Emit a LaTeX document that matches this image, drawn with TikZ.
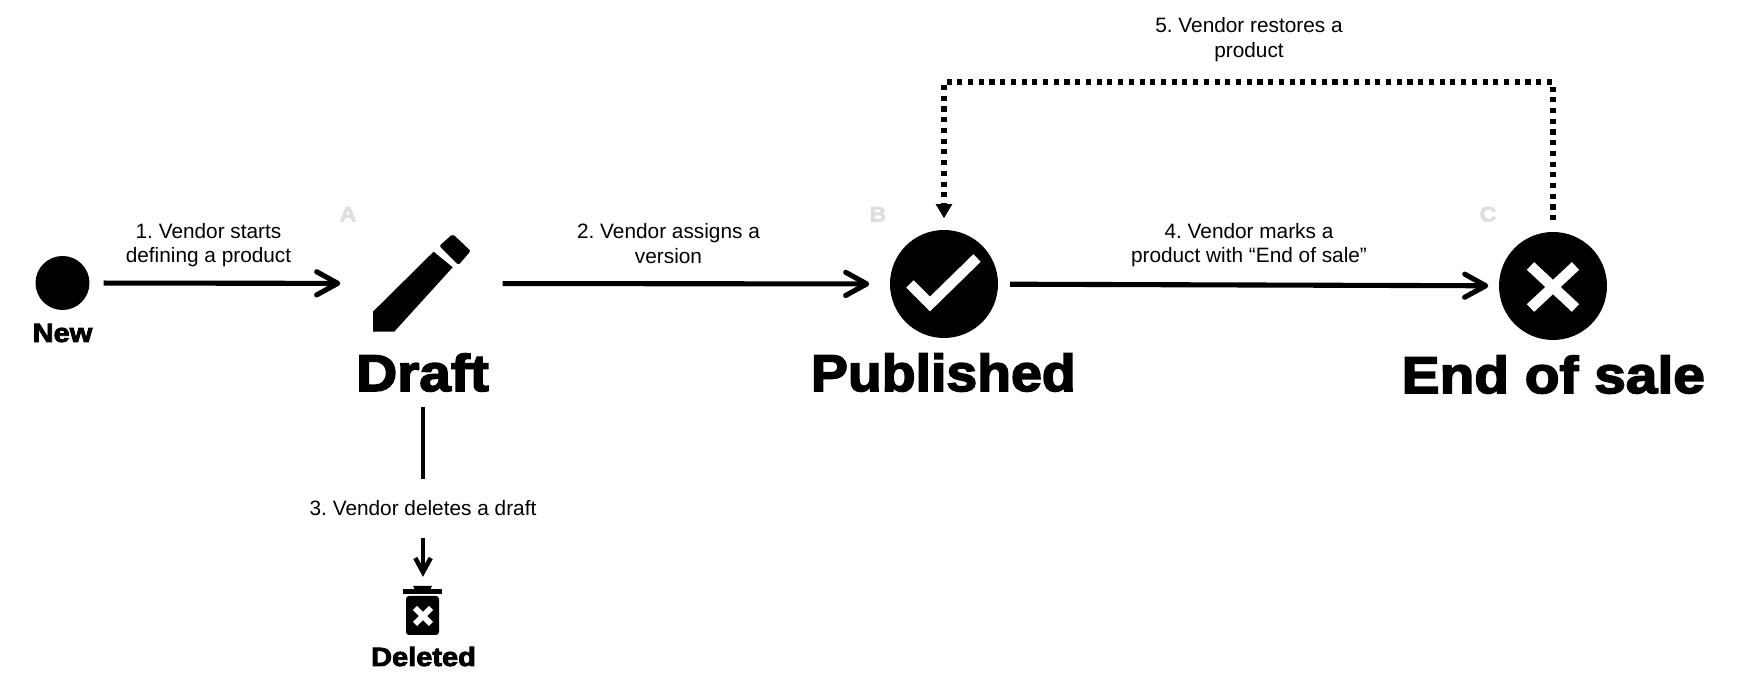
\documentclass[tikz,border=0pt]{standalone}
\usepackage{fontspec}
\setmainfont{Liberation Sans}
\newfontfamily\heavyfont[UprightFont=* Bold,FakeBold=3.2,FakeStretch=1.1]{Liberation Sans}
\usepackage{tikz}
\usetikzlibrary{arrows.meta}
\tikzset{
  stepdot/.style={shape=circle,fill=black,inner sep=0pt,minimum size=1.08cm},
  flow/.style={line width=1.45pt,-{Straight Barb[length=6pt,width=6.6pt,round]}},
  plainflow/.style={line width=1.35pt},
  restore/.style={line width=1.45pt,dash pattern=on 1.45pt off 1.6pt,-{Triangle[length=4pt,width=4.4pt]}},
  steplabel/.style={align=center,font=\fontsize{5.92}{7.03}\selectfont\frenchspacing,inner sep=0pt},
  stateword/.style={anchor=base,inner sep=0pt,font=\heavyfont\fontsize{14.7}{16}\selectfont},
  smallword/.style={anchor=base,inner sep=0pt,font=\heavyfont\fontsize{7.5}{8}\selectfont},
  corner/.style={anchor=base,inner sep=0pt,text=black!13,font=\heavyfont\fontsize{6}{7}\selectfont},
  glyph/.style={white,line width=3pt}
}

\begin{document}
\begin{tikzpicture}
        \useasboundingbox (0,0) rectangle (17.45,6.93);

        %nodes
        \node[stepdot,minimum size=0.54cm] (newdot) at (0.625,4.10) {};
        \node[shape=rectangle,inner sep=0pt,minimum width=1.64cm,minimum height=1cm] (draft) at (4.23,4.095) {};
        \node[stepdot] (published) at (9.44,4.09) {};
        \node[stepdot] (endsale) at (15.53,4.07) {};
        \node[inner sep=0pt,minimum size=0.01cm] (trash) at (4.23,1.15) {};
        \coordinate (looptop) at (9.44,6.11);
        \coordinate (stemend) at (4.23,2.14);
        \coordinate (stemtop) at (4.23,2.86);
        \coordinate (arrowstart) at (4.23,1.55);

        %pencil
        \fill[rounded corners=0.02cm] (4.527,4.59) -- (4.707,4.42) -- (4.585,4.28) -- (4.393,4.47) -- cycle;
        \fill (4.336,4.413) -- (4.527,4.257) -- (3.942,3.613) -- (3.73,3.613) -- (3.73,3.813) -- cycle;

        %check and cross
        \draw[glyph] (9.10,4.09) -- (9.30,3.89) -- (9.77,4.35);
        \draw[glyph] (15.305,4.27) -- (15.755,3.85);
        \draw[glyph] (15.305,3.85) -- (15.755,4.27);

        %bin
        \fill (4.13,1.07) -- (4.32,1.07) -- (4.30,1.03) -- (4.15,1.03) -- cycle;
        \fill (4.03,1.04) rectangle (4.42,0.99);
        \fill[rounded corners=0.03cm] (4.06,0.97) -- (4.39,0.97) -- (4.39,0.58) -- (4.06,0.58) -- cycle;
        \draw[white,line width=1.7pt] (4.15,0.85) -- (4.31,0.69);
        \draw[white,line width=1.7pt] (4.15,0.69) -- (4.31,0.85);

        %labels
        \node[stateword] (draftword) at (4.225,3.02) {Draft};
        \node[stateword,xscale=0.975,transform shape] (publishedword) at (9.433,3.02) {Published};
        \node[stateword] (endword) at (15.533,3.00) {End of sale};
        \node[smallword] (newword) at (0.625,3.51) {New};
        \node[smallword] (deletedword) at (4.235,0.27) {Deleted};
        \node[corner] (cornera) at (3.48,4.715) {A};
        \node[corner] (cornerb) at (8.78,4.715) {B};
        \node[corner] (cornerc) at (14.88,4.715) {C};
        \node[steplabel] (startlabel) at (2.085,4.48) {1. Vendor starts\\defining a product};
        \node[steplabel] (assignlabel) at (6.685,4.495) {2. Vendor assigns a\\version};
        \node[steplabel] (deletelabel) at (4.23,1.845) {3. Vendor deletes a draft};
        \node[steplabel] (marklabel) at (12.49,4.48) {4. Vendor marks a\\product with “End of sale”};
        \node[steplabel] (restorelabel) at (12.49,6.535) {5. Vendor restores a\\product};

        %edges
        \draw[flow,shorten <=0.135cm] (newdot) -- (draft);
        \draw[flow,shorten <=-0.03cm,shorten >=0.20cm] (draft) -- (published);
        \draw[flow,shorten <=0.115cm,shorten >=0.10cm] (published) -- (endsale);
        \draw[plainflow] (stemtop) -- (stemend);
        \draw[line width=1.3pt,-{Straight Barb[length=4pt,width=4.4pt]}] (arrowstart) -- (trash);
        \draw[restore,shorten <=0.11cm,shorten >=0.11cm] (endsale.north) |- (looptop) -- (published.north);

\end{tikzpicture}
\end{document}
